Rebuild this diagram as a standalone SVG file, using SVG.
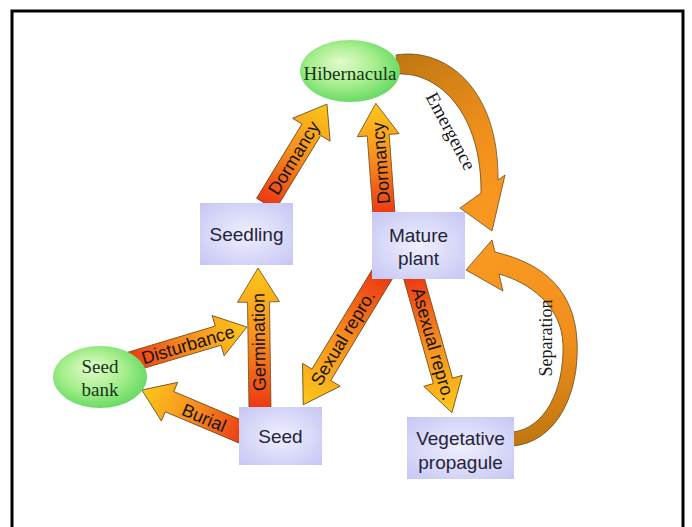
<svg xmlns="http://www.w3.org/2000/svg" width="692" height="527" viewBox="0 0 692 527">
  <defs>
    <linearGradient id="ag" x1="0" y1="0" x2="1" y2="0">
      <stop offset="0" stop-color="#ec3812"/>
      <stop offset="0.5" stop-color="#f68e1e"/>
      <stop offset="1" stop-color="#fcc81a"/>
    </linearGradient>
    <linearGradient id="eg" gradientUnits="userSpaceOnUse" x1="400" y1="60" x2="495" y2="210">
      <stop offset="0" stop-color="#c27812"/>
      <stop offset="0.6" stop-color="#f0901c"/>
      <stop offset="1" stop-color="#f99820"/>
    </linearGradient>
    <linearGradient id="sg" gradientUnits="userSpaceOnUse" x1="515" y1="440" x2="495" y2="260">
      <stop offset="0" stop-color="#c27812"/>
      <stop offset="0.5" stop-color="#ee8e1c"/>
      <stop offset="1" stop-color="#f99820"/>
    </linearGradient>
    <radialGradient id="gg" cx="0.45" cy="0.45" r="0.6" fx="0.4" fy="0.35">
      <stop offset="0" stop-color="#e4fbcc"/>
      <stop offset="0.55" stop-color="#a6ee8c"/>
      <stop offset="1" stop-color="#5fd85f"/>
    </radialGradient>
    <radialGradient id="bg" cx="0.5" cy="0.5" r="0.7">
      <stop offset="0" stop-color="#efeffe"/>
      <stop offset="1" stop-color="#c6c6f4"/>
    </radialGradient>
    <style>
      .arr { fill: url(#ag); stroke: #6b4a1a; stroke-width: 0.8; }
      .curve { stroke: #6b4a1a; stroke-width: 0.8; }
      .lbl { font-family: "Liberation Sans", Arial, sans-serif; font-size: 18px; fill: #141414; text-anchor: middle; dominant-baseline: central; }
      .slbl { font-family: "Liberation Serif", "Times New Roman", serif; fill: #1a1a1a; text-anchor: middle; dominant-baseline: central; }
      .box { fill: url(#bg); }
      .ell { fill: url(#gg); }
      .nt { font-family: "Liberation Sans", Arial, sans-serif; font-size: 19px; fill: #23233a; text-anchor: middle; dominant-baseline: central; }
      .et { font-family: "Liberation Serif", "Times New Roman", serif; font-size: 19px; fill: #16341a; text-anchor: middle; dominant-baseline: central; }
    </style>
  </defs>
  <rect x="0" y="0" width="692" height="527" fill="#ffffff"/>
  <path d="M12 527 V11 H683 V527" fill="none" stroke="#000" stroke-width="3"/>

  <g id="connectors">
    <g transform="translate(266,204) rotate(-58.6)">
      <polygon class="arr" points="0,-11 87,-11 87,-22 117,0 87,22 87,11 0,11"/>
    </g>
    <g transform="translate(384,214) rotate(-94.2)">
      <polygon class="arr" points="0,-11 79,-11 79,-21 111,0 79,21 79,11 0,11"/>
    </g>
    <g transform="translate(260,409) rotate(-90.8)">
      <polygon class="arr" points="0,-11 107,-11 107,-21 141,0 107,21 107,11 0,11"/>
    </g>
    <g transform="translate(130,362) rotate(-16.65)">
      <polygon class="arr" points="0,-10 92,-10 92,-21 122,0 92,21 92,10 0,10"/>
    </g>
    <g transform="translate(246,434) rotate(-157.1)">
      <polygon class="arr" points="0,-11 83,-11 83,-21 113,0 83,21 83,11 0,11"/>
    </g>
    <g transform="translate(383,273) rotate(121.2)">
      <polygon class="arr" points="0,-11 119,-11 119,-22 154,0 119,22 119,11 0,11"/>
    </g>
    <g transform="translate(413,275) rotate(74.2)">
      <polygon class="arr" points="0,-10 110,-10 110,-20 143,0 110,20 110,10 0,10"/>
    </g>
    <path class="curve" fill="url(#eg)" d="M396 55 C445 47 499 88 498 180 L505 175 L492 231 L460 208 L481 193 C482 115 440 72 398 74 Z"/>
    <path class="curve" fill="url(#sg)" d="M513 446 C556 442 580 395 577 340 C574 292 546 264 495 252 L492 240 L466 270 L503 291 L499 274 C528 282 562 305 563 345 C564 390 545 428 513 432 Z"/>

    <text class="lbl" transform="translate(294,158) rotate(-58.6)">Dormancy</text>
    <text class="lbl" transform="translate(381,163) rotate(-94.2)">Dormancy</text>
    <text class="lbl" transform="translate(259,342) rotate(-90.8)">Germination</text>
    <text class="lbl" transform="translate(188,345) rotate(-16.65)">Disturbance</text>
    <text class="lbl" transform="translate(204,418) rotate(22.9)">Burial</text>
    <text class="lbl" font-size="17" transform="translate(343,338) rotate(-58.8)">Sexual repro.</text>
    <text class="lbl" font-size="17" transform="translate(433,344) rotate(74.2)">Asexual repro.</text>
    <text class="slbl" font-size="19" transform="translate(451,131) rotate(62)">Emergence</text>
    <text class="slbl" font-size="18" transform="translate(546,338) rotate(-90)">Separation</text>
  </g>

  <g id="hibernacula">
    <ellipse class="ell" cx="350" cy="71" rx="50" ry="31"/>
    <text class="et" x="350" y="73">Hibernacula</text>
  </g>
  <g id="seedbank">
    <ellipse class="ell" cx="100" cy="377" rx="47" ry="31"/>
    <text class="et" x="100" y="366">Seed</text>
    <text class="et" x="100" y="389">bank</text>
  </g>
  <g id="seedling">
    <rect class="box" x="200" y="203" width="93" height="62"/>
    <text class="nt" x="246.5" y="234">Seedling</text>
  </g>
  <g id="mature">
    <rect class="box" x="372" y="212" width="93" height="67"/>
    <text class="nt" x="418.5" y="235">Mature</text>
    <text class="nt" x="418.5" y="258">plant</text>
  </g>
  <g id="seed">
    <rect class="box" x="239" y="407" width="83" height="58"/>
    <text class="nt" x="280.5" y="436">Seed</text>
  </g>
  <g id="vegetative">
    <rect class="box" x="407" y="417" width="107" height="62"/>
    <text class="nt" x="460.5" y="438">Vegetative</text>
    <text class="nt" x="460.5" y="462">propagule</text>
  </g>
</svg>
